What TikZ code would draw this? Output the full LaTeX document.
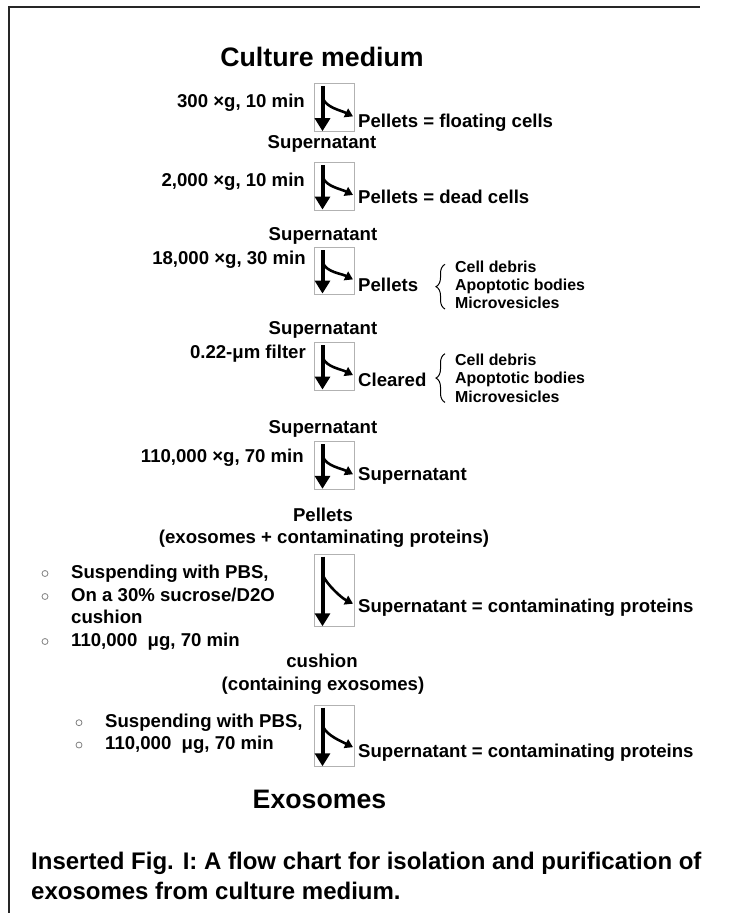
\documentclass[tikz,border=0pt]{standalone}
\usepackage{fontspec}
\setmainfont{Liberation Sans}
\usepackage{tikz}
\usetikzlibrary{arrows.meta, calc, decorations.pathreplacing}

\begin{document}
\begin{tikzpicture}[x=1pt, y=-1pt,
    every node/.style={inner sep=0pt},
    title/.style={font=\bfseries\fontsize{26.7}{32}\selectfont, anchor=base},
    txt/.style={font=\bfseries\fontsize{18.6}{22}\selectfont},
    smalltxt/.style={font=\bfseries\fontsize{15.9}{18.3}\selectfont, align=left, anchor=south west},
    note/.style={font=\bfseries\fontsize{24}{29.5}\selectfont, align=left, anchor=south west},
    spinbox/.style={draw=black!30, line width=1pt, minimum width=40pt, minimum height=#1},
    spinbox/.default=48pt,
    shaft/.style={line width=4pt, -{Triangle[length=13pt,width=15pt]}},
    branch/.style={line width=2.6pt, -{Triangle[length=8pt,width=9.5pt]}},
    dot/.style={circle, draw=black!50, line width=0.8pt, minimum size=6pt},
    curly/.style={decorate, decoration={brace, amplitude=9pt}, line width=1pt},
    frame/.style={line width=1.8pt, black!85}]
    \useasboundingbox (0,0) rectangle (734,913);
    \draw[frame] (9,913) -- (9,7) -- (700,7);

    % Define the nodes
    \node[title] (medium) at (322,66) {Culture medium};

    \node[spinbox=48.4pt] (spin1) at (334.5,107.5) {};
    \node[txt, anchor=base east] (cond1) at (305,107) {300 ×g, 10 min};
    \node[txt, anchor=base west] (out1) at (358,127.7) {Pellets = floating cells};
    \node[txt, anchor=base] (sup1) at (322,148) {Supernatant};

    \node[spinbox=47.7pt] (spin2) at (334.5,186.2) {};
    \node[txt, anchor=base east] (cond2) at (305,186) {2,000 ×g, 10 min};
    \node[txt, anchor=base west] (out2) at (358,203) {Pellets = dead cells};
    \node[txt, anchor=base] (sup2) at (323,240.5) {Supernatant};

    \node[spinbox=46.3pt] (spin3) at (334.5,270.9) {};
    \node[txt, anchor=base east] (cond3) at (306,264) {18,000 ×g, 30 min};
    \node[txt, anchor=base west] (out3) at (358,291.7) {Pellets};
    \node[smalltxt] (list3) at (455,309) {Cell debris\\Apoptotic bodies\\Microvesicles};
    \node[txt, anchor=base] (sup3) at (323,334) {Supernatant};

    \node[spinbox=47.3pt] (spin4) at (334.5,366.4) {};
    \node[txt, anchor=base east] (cond4) at (306,358) {0.22-μm filter};
    \node[txt, anchor=base west] (out4) at (358,386.7) {Cleared};
    \node[smalltxt] (list4) at (455,402.4) {Cell debris\\Apoptotic bodies\\Microvesicles};
    \node[txt, anchor=base] (sup4) at (323,433.3) {Supernatant};

    \node[spinbox=47.6pt] (spin5) at (334.5,465.5) {};
    \node[txt, anchor=base east] (cond5) at (304,462) {110,000 ×g, 70 min};
    \node[txt, anchor=base west] (out5) at (358,480) {Supernatant};
    \node[txt, anchor=base] (pel) at (323,521) {Pellets};
    \node[txt, anchor=base] (pelnote) at (324,543) {(exosomes + contaminating proteins)};

    \node[spinbox=72.7pt] (spin6) at (334.5,590.4) {};
    \node[txt, anchor=base west] (out6) at (358,612) {Supernatant = contaminating proteins};
    \node[txt, anchor=base west] (step1a) at (71,578) {Suspending with PBS,};
    \node[txt, anchor=base west] (step1b) at (71,601) {On a 30\% sucrose/D2O};
    \node[txt, anchor=base west] (step1c) at (71,623) {cushion};
    \node[txt, anchor=base west] (step1d) at (71,646) {110,000~~μg, 70 min};
    \node[dot] (dot1a) at (45,573.5) {};
    \node[dot] (dot1b) at (45,596.5) {};
    \node[dot] (dot1d) at (45,641.5) {};
    \node[txt, anchor=base] (cush) at (322,667) {cushion};
    \node[txt, anchor=base] (cushnote) at (323,690) {(containing exosomes)};

    \node[spinbox=61.7pt] (spin7) at (334.5,735.9) {};
    \node[txt, anchor=base west] (step2a) at (105,727.3) {Suspending with PBS,};
    \node[txt, anchor=base west] (step2b) at (105,749.5) {110,000~~μg, 70 min};
    \node[dot] (dot2a) at (79,722.7) {};
    \node[dot] (dot2b) at (79,745) {};
    \node[txt, anchor=base west] (out7) at (358,757) {Supernatant = contaminating proteins};
    \node[title] (exo) at (319.5,808.5) {Exosomes};

    \node[note] (caption) at (31,899.5) {Inserted Fig. I: A flow chart for isolation and purification of\\exosomes from culture medium.};

    % Define the spin arrows and braces
    \foreach \s/\d in {spin1/16,spin2/16,spin3/16,spin4/16,spin5/16,spin6/22,spin7/22}{
        \draw[shaft] ([xshift=8.5pt,yshift=-3pt]\s.north west) -- ([xshift=8.5pt,yshift=1pt]\s.south west);
        \draw[branch] ([xshift=9pt,yshift=-\d pt]\s.north west) .. controls +(4,9) and +(-12,-6) .. ($(\s.north east)!.68!(\s.south east)+(-2,0)$);
    }
    \draw[curly] ([xshift=-10pt]list3.south west) -- ([xshift=-10pt,yshift=-4pt]list3.north west);
    \draw[curly] ([xshift=-10pt]list4.south west) -- ([xshift=-10pt]list4.north west);
\end{tikzpicture}
\end{document}
